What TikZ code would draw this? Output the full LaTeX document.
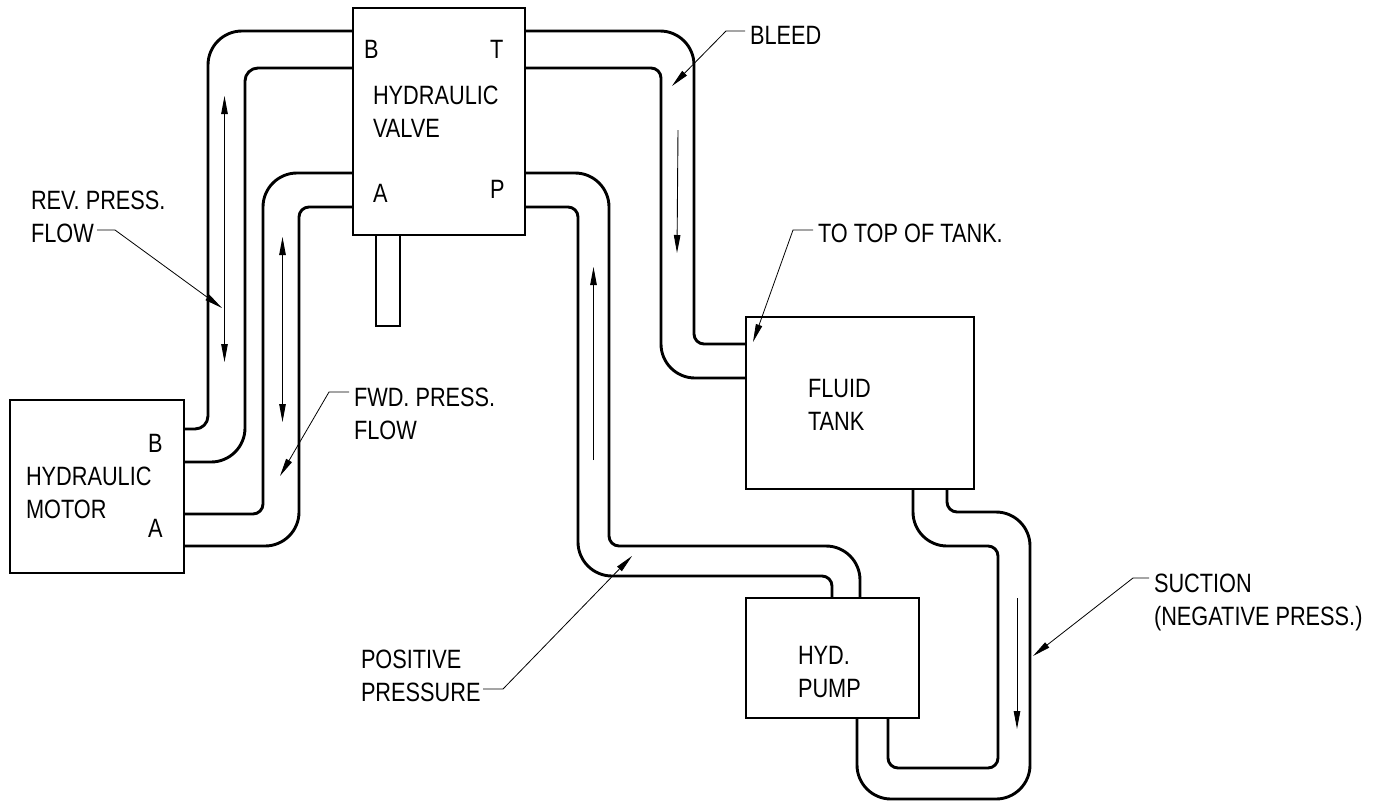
\documentclass[tikz,border=0pt]{standalone}
\usepackage{fontspec}
\setmainfont[FakeStretch=0.82]{Liberation Sans}
\usetikzlibrary{arrows.meta}
\tikzset{
  box/.style={draw=black,line width=2.9pt,fill=none,inner sep=0pt,outer sep=0pt},
  pipe/.style={draw=black,line width=2.9pt,line join=round,line cap=butt},
  flow/.style={draw=black,line width=0.9pt},
  tipA/.tip={Stealth[length=18pt,width=6.5pt,inset=0pt]},
  lead/.style={draw=black,line width=0.8pt,-tipA},
  lbl/.style={anchor=base west,inner sep=0pt,outer sep=0pt,align=left,font=\fontsize{26.5}{33.5}\selectfont,text=black}
}
\begin{document}
\begin{tikzpicture}[x=1pt,y=-1pt]
\useasboundingbox (0,0) rectangle (1380,801);
\fill[white] (0,0) rectangle (1380,801);
% boxes
\node[box,minimum width=172pt,minimum height=227pt] (valve) at (439,121.5) {};
\node[box,minimum width=24pt,minimum height=91pt,anchor=north] (stem) at (388,235) {};
\node[box,minimum width=174pt,minimum height=173pt] (motor) at (97,486.5) {};
\node[box,minimum width=228pt,minimum height=172pt] (tank) at (860,403) {};
\node[box,minimum width=173pt,minimum height=120pt] (pump) at (832.5,658) {};
% pipes
\draw[pipe,rounded corners=34pt] (valve.west |- 0,31) -- (208,31) [rounded corners=13pt] -- (208,429) -- (motor.east |- 0,429);
\draw[pipe,rounded corners=13pt] (valve.west |- 0,68) -- (245,68) [rounded corners=34pt] -- (245,462) -- (motor.east |- 0,462);
\draw[pipe,rounded corners=34pt] (valve.west |- 0,173) -- (263,173) [rounded corners=10pt] -- (263,514) -- (motor.east |- 0,514);
\draw[pipe,rounded corners=10pt] (valve.west |- 0,207) -- (299,207) [rounded corners=34pt] -- (299,546) -- (motor.east |- 0,546);
\draw[pipe,rounded corners=34pt] (valve.east |- 0,31) -- (694,31) [rounded corners=10pt] -- (694,344) -- (tank.west |- 0,344);
\draw[pipe,rounded corners=10pt] (valve.east |- 0,68) -- (661,68) [rounded corners=34pt] -- (661,378) -- (tank.west |- 0,378);
\draw[pipe,rounded corners=34pt] (valve.east |- 0,173) -- (609,173) [rounded corners=10pt] -- (609,546) [rounded corners=34pt] -- (860,546) -- (860,0 |- pump.north);
\draw[pipe,rounded corners=10pt] (valve.east |- 0,207) -- (578,207) [rounded corners=34pt] -- (578,576) [rounded corners=10pt] -- (832,576) -- (832,0 |- pump.north);
\draw[pipe,rounded corners=10pt] (947,0 |- tank.south) -- (947,512) [rounded corners=34pt] -- (1030,512) -- (1030,799) -- (857,799) -- (857,0 |- pump.south);
\draw[pipe,rounded corners=34pt] (913,0 |- tank.south) -- (913,546) [rounded corners=10pt] -- (998,546) -- (998,768) -- (888,768) -- (888,0 |- pump.south);
% flow arrows
\coordinate (f1a) at (224.5,96); \coordinate (f1b) at (224.5,362);
\coordinate (f2a) at (282.5,237); \coordinate (f2b) at (282.5,422);
\coordinate (f3a) at (678,130); \coordinate (f3b) at (677,253);
\coordinate (f4a) at (593.5,460); \coordinate (f4b) at (593.5,267);
\coordinate (f5a) at (1017,598); \coordinate (f5b) at (1017,729);
\draw[flow,tipA-tipA] (f1a) -- (f1b);
\draw[flow,tipA-tipA] (f2a) -- (f2b);
\draw[flow,-tipA] (f3a) -- (f3b);
\draw[flow,-tipA] (f4a) -- (f4b);
\draw[flow,-tipA] (f5a) -- (f5b);
% labels
\node[lbl] (lB) at (364,58) {B};
\node[lbl] (lT) at (490,58) {T};
\node[lbl] (lV) at (373,137.5) {HYDRAULIC\\VALVE};
\node[lbl] (lA) at (373,202) {A};
\node[lbl] (lP) at (490,198) {P};
\node[lbl] (lRev) at (31,242.5) {REV. PRESS.\\FLOW};
\node[lbl] (mB) at (148,452) {B};
\node[lbl] (lM) at (26,518.5) {HYDRAULIC\\MOTOR};
\node[lbl] (mA) at (148,537) {A};
\node[lbl] (lFwd) at (354,439.5) {FWD. PRESS.\\FLOW};
\node[lbl] (lPos) at (361,701.5) {POSITIVE\\PRESSURE};
\node[lbl] (lBl) at (750,44) {BLEED};
\node[lbl] (lTop) at (818,242) {TO TOP OF TANK.};
\node[lbl] (lF) at (808,430.5) {FLUID\\TANK};
\node[lbl] (lH) at (798,697.5) {HYD.\\PUMP};
\node[lbl] (lS) at (1154,625.5) {SUCTION\\(NEGATIVE PRESS.)};
% leaders
\coordinate (r0) at (97,230); \coordinate (r1) at (115,230); \coordinate (r2) at (222,308);
\coordinate (w0) at (349,392); \coordinate (w1) at (329,392); \coordinate (w2) at (280,476);
\coordinate (b0) at (745,31); \coordinate (b1) at (726,31); \coordinate (b2) at (672,86);
\coordinate (t0) at (813,230); \coordinate (t1) at (793,230); \coordinate (t2) at (753,342);
\coordinate (s0) at (1149,578); \coordinate (s1) at (1133,578); \coordinate (s2) at (1033,656);
\coordinate (p0) at (483,689); \coordinate (p1) at (503,689); \coordinate (p2) at (632,556);
\draw[lead] (r0) -- (r1) -- (r2);
\draw[lead] (w0) -- (w1) -- (w2);
\draw[lead] (b0) -- (b1) -- (b2);
\draw[lead] (t0) -- (t1) -- (t2);
\draw[lead] (s0) -- (s1) -- (s2);
\draw[lead] (p0) -- (p1) -- (p2);
\end{tikzpicture}
\end{document}
